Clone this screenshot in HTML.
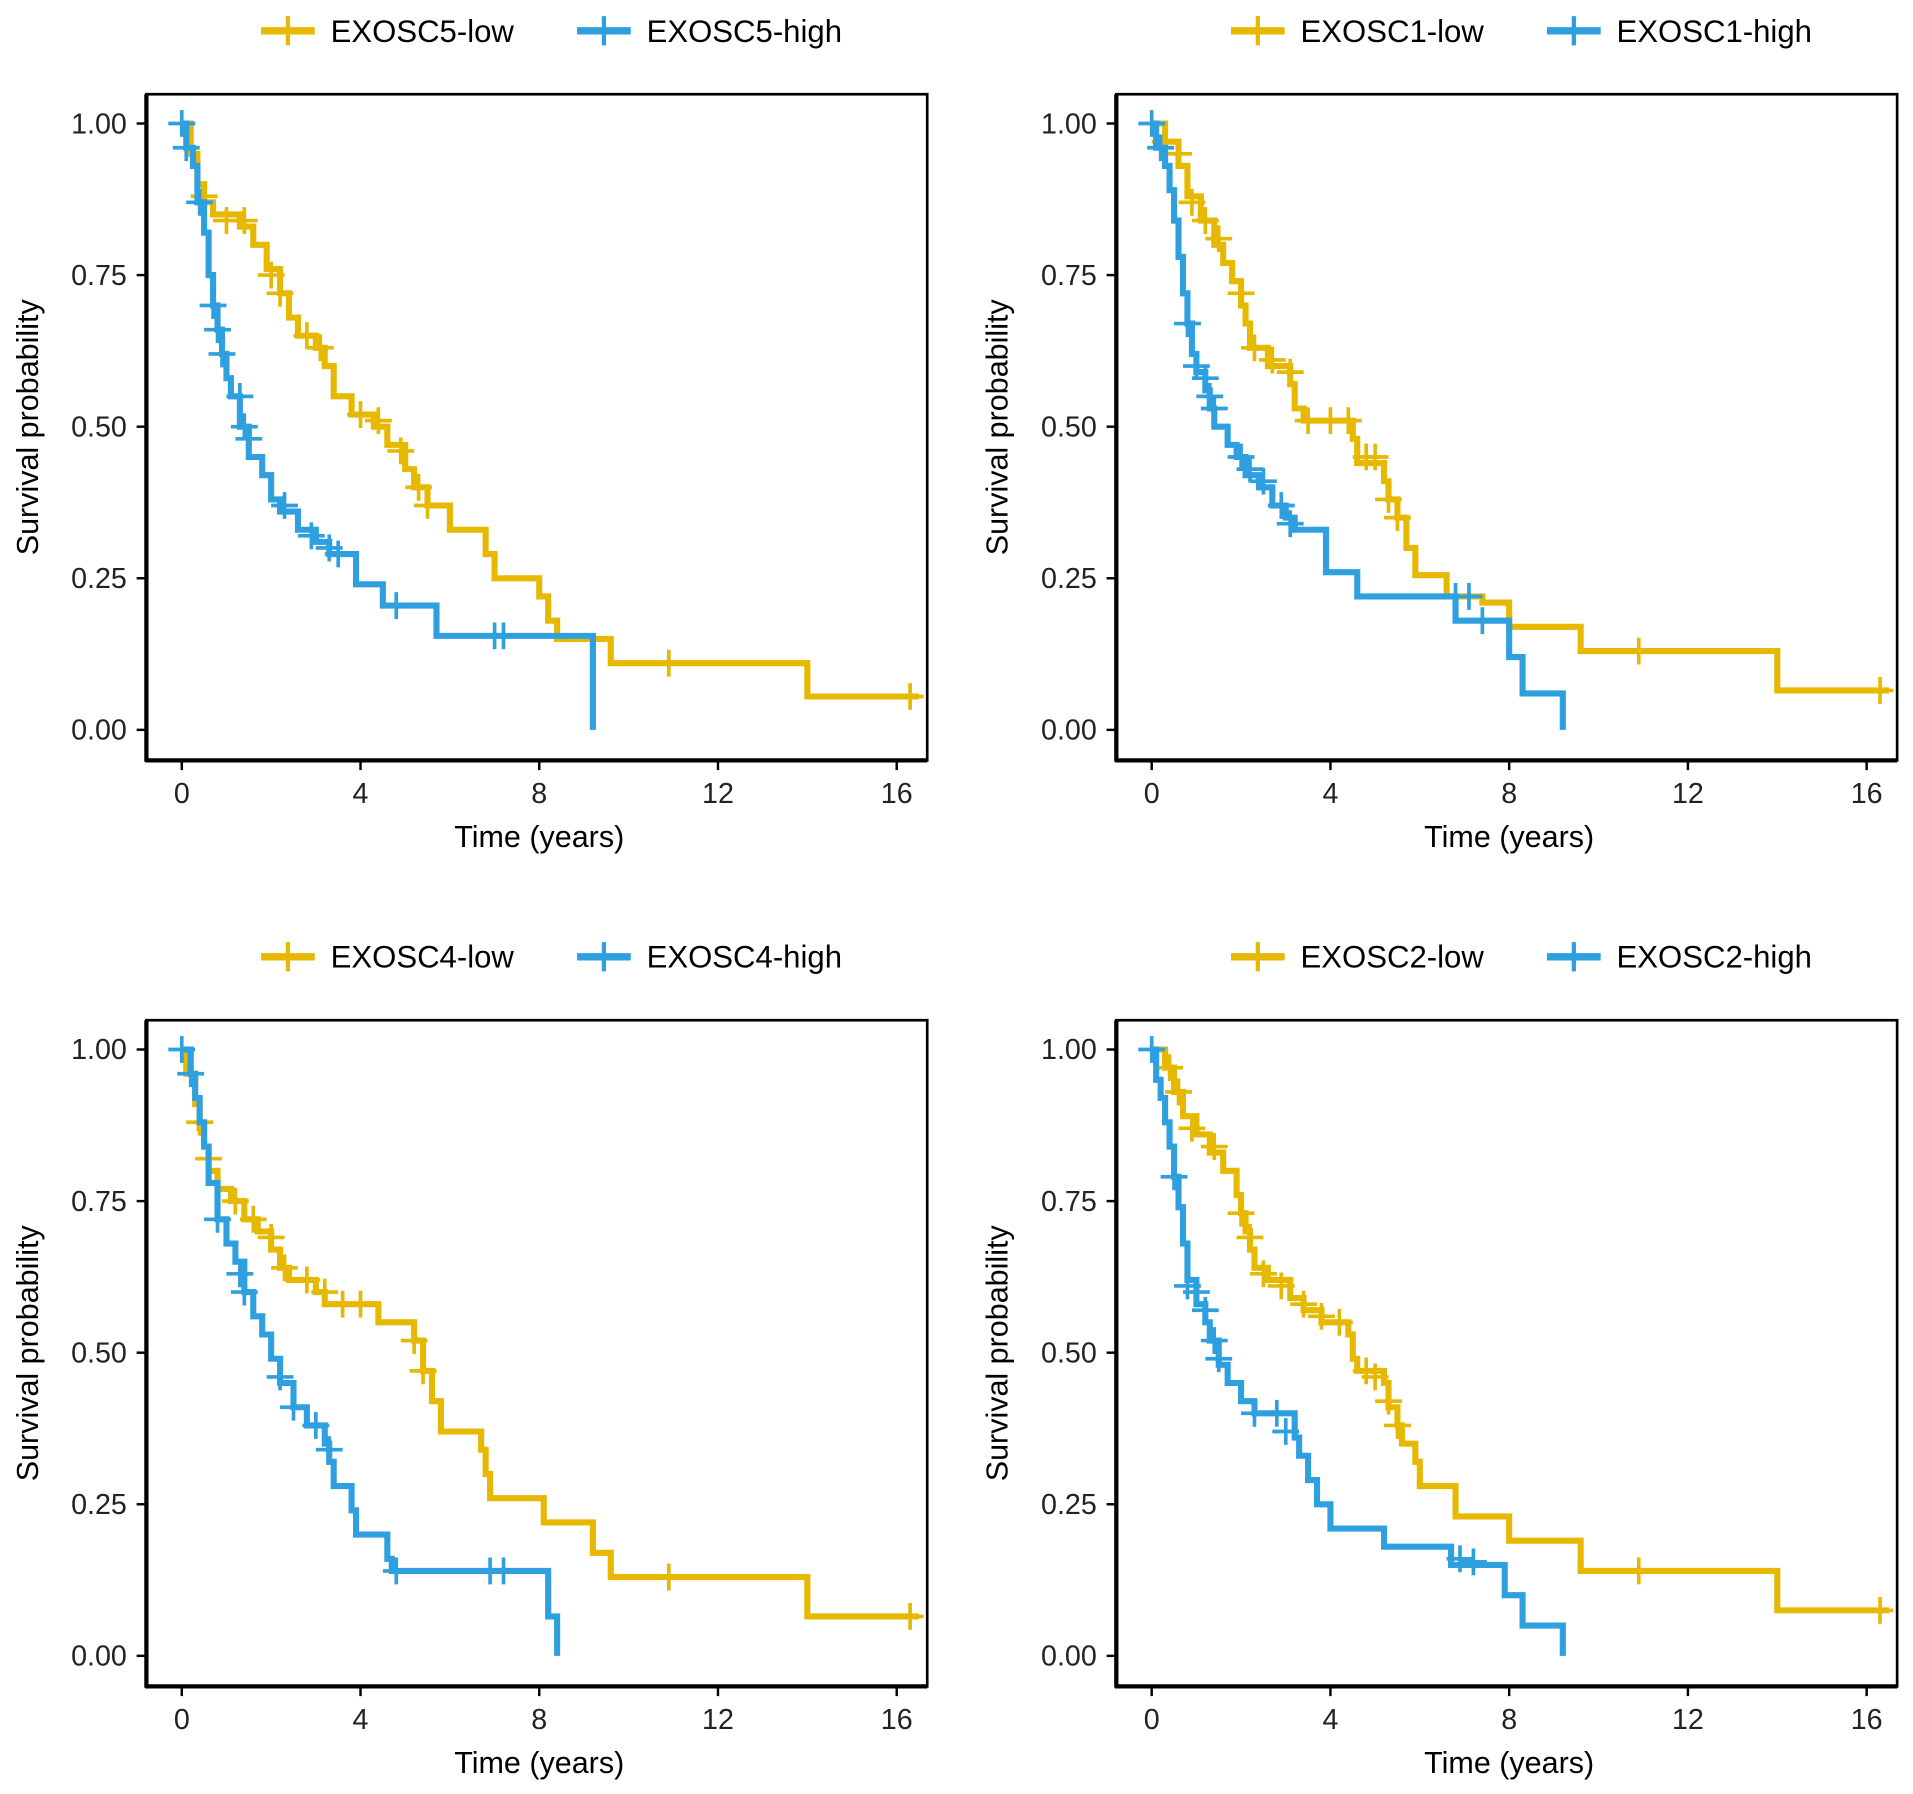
<!DOCTYPE html>
<html><head><meta charset="utf-8"><style>
html,body{margin:0;padding:0;background:#fff;}
svg{display:block;font-family:"Liberation Sans",Arial,sans-serif;}
</style></head><body>
<svg id="chart" width="1913" height="1794" viewBox="0 0 1568 1470" xmlns="http://www.w3.org/2000/svg"></svg>
<script>
const genes = ["EXOSC5","EXOSC1","EXOSC4","EXOSC2"];
const lowTimes = [
 [0,0.2,0.35,0.5,0.7,1.3,1.6,1.9,2.2,2.4,2.6,3.0,3.2,3.4,3.8,4.3,4.6,5.0,5.2,5.5,6.0,6.8,7.0,8.0,8.2,8.4,9.6,14.0,16.5],
 [0,0.3,0.6,0.8,1.1,1.4,1.6,1.8,2.0,2.1,2.2,2.6,3.1,3.2,3.4,4.5,4.6,5.2,5.3,5.5,5.7,5.9,6.6,7.4,8.0,9.6,14.0,16.5],
 [0,0.1,0.3,0.4,0.5,0.6,0.8,1.1,1.4,1.7,2.0,2.2,2.4,3.0,3.2,4.4,5.2,5.4,5.6,5.8,6.7,6.8,6.9,8.1,9.2,9.6,14.0,16.5],
 [0,0.3,0.5,0.7,1.0,1.3,1.6,1.9,2.0,2.1,2.2,2.3,2.6,3.1,3.4,3.8,4.4,4.5,4.6,5.2,5.3,5.5,5.6,5.9,6.0,6.8,8.0,9.6,14.0,16.5]
];
const lowSurv = [
 [1,0.95,0.9,0.87,0.85,0.83,0.8,0.76,0.72,0.68,0.65,0.63,0.6,0.55,0.52,0.5,0.47,0.43,0.4,0.37,0.33,0.29,0.25,0.22,0.18,0.15,0.11,0.055,0.055],
 [1,0.97,0.93,0.88,0.84,0.8,0.77,0.74,0.7,0.67,0.63,0.6,0.57,0.53,0.51,0.48,0.44,0.41,0.38,0.35,0.3,0.255,0.22,0.21,0.17,0.13,0.065,0.065],
 [1,0.96,0.91,0.87,0.84,0.8,0.77,0.75,0.72,0.7,0.67,0.64,0.62,0.6,0.58,0.55,0.52,0.47,0.42,0.37,0.34,0.3,0.26,0.22,0.17,0.13,0.065,0.065],
 [1,0.97,0.93,0.89,0.86,0.83,0.8,0.76,0.73,0.7,0.67,0.64,0.62,0.59,0.57,0.55,0.53,0.49,0.47,0.45,0.41,0.38,0.35,0.32,0.28,0.23,0.19,0.14,0.075,0.075]
];
const highTimes = [
 [0,0.1,0.25,0.35,0.5,0.6,0.7,0.8,0.9,1.0,1.1,1.3,1.5,1.8,2.0,2.2,2.6,3.0,3.3,3.9,4.5,5.7,9.2],
 [0,0.1,0.3,0.4,0.5,0.6,0.7,0.8,0.9,1.0,1.2,1.3,1.4,1.7,1.9,2.1,2.4,2.7,3.0,3.2,3.9,4.6,6.8,8.0,8.3,9.2],
 [0,0.2,0.3,0.4,0.5,0.6,0.8,1.0,1.2,1.4,1.6,1.8,2.0,2.2,2.5,2.8,3.2,3.3,3.4,3.8,3.9,4.6,4.7,8.2,8.4],
 [0,0.1,0.2,0.3,0.4,0.5,0.6,0.7,0.8,1.0,1.2,1.3,1.5,1.7,2.0,2.3,3.2,3.3,3.5,3.7,4.0,5.2,6.7,7.9,8.3,9.2]
];
const highSurv = [
 [1,0.96,0.93,0.87,0.82,0.75,0.7,0.66,0.62,0.58,0.55,0.5,0.45,0.42,0.38,0.36,0.33,0.31,0.29,0.24,0.205,0.155,0],
 [1,0.96,0.93,0.89,0.84,0.78,0.72,0.67,0.62,0.59,0.56,0.53,0.5,0.47,0.45,0.42,0.4,0.37,0.35,0.33,0.26,0.22,0.18,0.12,0.06,0],
 [1,0.96,0.92,0.88,0.84,0.78,0.72,0.68,0.65,0.6,0.56,0.53,0.49,0.45,0.41,0.38,0.35,0.32,0.28,0.24,0.2,0.16,0.14,0.065,0],
 [1,0.95,0.92,0.88,0.84,0.79,0.74,0.68,0.62,0.58,0.55,0.52,0.48,0.45,0.42,0.4,0.36,0.33,0.29,0.25,0.21,0.18,0.15,0.1,0.05,0]
];
const lowCensT = [
 [0.5,1.0,1.4,2.0,2.2,2.8,3.1,4.0,4.4,4.9,5.3,5.5,10.9,16.3],
 [0.3,0.6,0.9,1.2,1.5,2.0,2.3,2.7,3.1,3.5,4.0,4.4,4.8,5.0,5.3,5.5,10.9,16.3],
 [0.4,0.6,1.2,1.6,2.0,2.3,2.8,3.2,3.6,4.0,5.2,5.4,10.9,16.3],
 [0.4,0.6,0.9,1.4,2.0,2.2,2.5,2.9,3.4,3.8,4.2,4.8,5.0,5.3,5.5,10.9,16.3]
];
const lowCensS = [
 [0.88,0.84,0.84,0.75,0.72,0.65,0.63,0.52,0.51,0.46,0.4,0.37,0.11,0.055],
 [0.97,0.95,0.87,0.84,0.81,0.72,0.63,0.61,0.59,0.51,0.51,0.51,0.45,0.45,0.38,0.35,0.13,0.065],
 [0.88,0.82,0.75,0.72,0.69,0.64,0.62,0.6,0.58,0.58,0.52,0.47,0.13,0.065],
 [0.97,0.93,0.87,0.84,0.73,0.69,0.63,0.61,0.58,0.56,0.55,0.47,0.46,0.42,0.38,0.14,0.075]
];
const highCensT = [
 [0,0.1,0.4,0.7,0.8,0.9,1.3,1.4,1.5,2.3,2.9,3.3,3.5,4.8,7.0,7.2],
 [0,0.2,0.8,1.0,1.2,1.3,1.4,2.0,2.2,2.5,2.9,3.1,6.8,7.1,7.4],
 [0,0.2,0.8,1.3,1.4,2.2,2.5,3.0,3.3,4.8,6.9,7.2],
 [0,0.5,0.8,1.0,1.2,1.4,1.5,2.3,2.8,3.0,6.9,7.2]
];
const highCensS = [
 [1,0.96,0.87,0.7,0.66,0.62,0.55,0.5,0.48,0.37,0.32,0.3,0.29,0.205,0.155,0.155],
 [1,0.96,0.67,0.6,0.58,0.55,0.53,0.45,0.43,0.41,0.37,0.34,0.22,0.22,0.18],
 [1,0.96,0.72,0.63,0.6,0.46,0.41,0.38,0.34,0.14,0.14,0.14],
 [1,0.79,0.61,0.6,0.57,0.52,0.49,0.4,0.4,0.37,0.16,0.155]
];
const xTicks = [0,4,8,12,16];
const yTicks = [0,0.25,0.5,0.75,1];
const yTickLabels = ["0.00","0.25","0.50","0.75","1.00"];

const GOLD="#E7B800", BLUE="#2E9FDF";
const NS="http://www.w3.org/2000/svg";
const svg=document.getElementById('chart');
function el(tag,attrs,parent){const e=document.createElementNS(NS,tag);for(const k in attrs)e.setAttribute(k,attrs[k]);(parent||svg).appendChild(e);return e;}
const panels=[{ox:0,oy:0},{ox:795,oy:0},{ox:0,oy:759},{ox:795,oy:759}];

panels.forEach((p,i)=>{
  const g=el('g',{transform:`translate(${p.ox},${p.oy})`});
  
  
  const xs=t=>149+t*(735-149)/16;
  const ys=s=>598-s*(598-101);
  const box=el('rect',{x:120,y:77,width:640,height:546,fill:'none',stroke:'#000','stroke-width':2.2},g);
  
  
  el('line',{x1:120,y1:77,x2:120,y2:624,stroke:'#000','stroke-width':3.5},g);
  el('line',{x1:119,y1:623,x2:760,y2:623,stroke:'#000','stroke-width':3.5},g);
  yTicks.forEach((v,k)=>{
    el('line',{x1:112,x2:120,y1:ys(v),y2:ys(v),stroke:'#000','stroke-width':2},g);
    const t=el('text',{x:104,y:ys(v)+8,'text-anchor':'end','font-size':23.5,fill:'#222'},g);
    t.textContent=yTickLabels[k];
    
    
  });
  xTicks.forEach(v=>{
    el('line',{x1:xs(v),x2:xs(v),y1:623,y2:631,stroke:'#000','stroke-width':2},g);
    const t=el('text',{x:xs(v),y:658,'text-anchor':'middle','font-size':23.5,fill:'#222'},g);
    t.textContent=v;
    
    
  });
  const xt=el('text',{x:442,y:694,'text-anchor':'middle','font-size':25,fill:'#000'},g);
  xt.textContent='Time (years)';
  
  
  const yt=el('text',{x:0,y:0,transform:'translate(31,350) rotate(-90)','text-anchor':'middle','font-size':25,fill:'#000'},g);
  yt.textContent='Survival probability';
  
  
  const series=[[lowTimes[i],lowSurv[i],lowCensT[i],lowCensS[i],GOLD,'low'],[highTimes[i],highSurv[i],highCensT[i],highCensS[i],BLUE,'high']];
  series.forEach(([T,S,CT,CS,col,nm])=>{
    let d=`M${xs(T[0])},${ys(S[0])}`;
    for(let k=1;k<T.length;k++){d+=` H${xs(T[k])} V${ys(S[k])}`;}
    const path=el('path',{d,fill:'none',stroke:col,'stroke-width':5,'stroke-linejoin':'miter'},g);
    
    
    CT.forEach((t,k)=>{
      const cx=xs(t),cy=ys(CS[k]);
      const c=el('path',{d:`M${cx-11},${cy}H${cx+11}M${cx},${cy-11}V${cy+11}`,stroke:col,'stroke-width':3,fill:'none'},g);
      
      
    });
  });
  const lg=el('g',{},g);
  
  
  [[214,GOLD,genes[i]+'-low'],[473,BLUE,genes[i]+'-high']].forEach(([lx,col,label])=>{
    const e=el('g',{},lg);
    
    
    el('line',{x1:lx,x2:lx+44,y1:25,y2:25,stroke:col,'stroke-width':6},e);
    el('path',{d:`M${lx+12},25H${lx+32}M${lx+22},13V37`,stroke:col,'stroke-width':3.5},e);
    const t=el('text',{x:lx+57,y:34,'font-size':25.5,fill:'#000'},e);
    t.textContent=label;
  });
});
</script>
</body></html>
